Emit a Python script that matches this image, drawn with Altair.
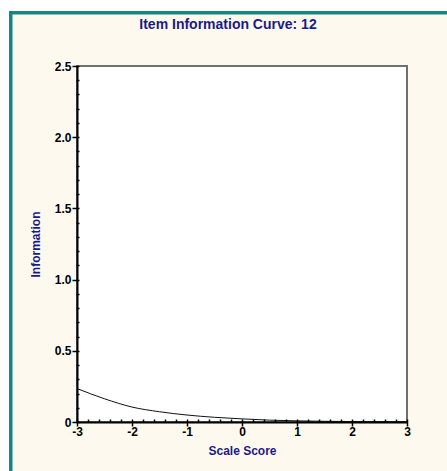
import altair as alt
import pandas as pd

# Item information for item 12 across the scale score range
theta = [-3.0, -2.5, -2.0, -1.5, -1.0, -0.5, 0.0, 0.5, 1.0, 1.5, 2.0, 2.5, 3.0]
info = [0.235, 0.163, 0.105, 0.072, 0.049, 0.033, 0.022, 0.013, 0.008, 0.005, 0.003, 0.002, 0.001]

major_x = [-3, -2, -1, 0, 1, 2, 3]
minor_x = [round(-3 + 0.2 * i, 1) for i in range(31)]
major_y = [0, 0.5, 1.0, 1.5, 2.0, 2.5]
minor_y = [round(0.1 * i, 1) for i in range(26)]

df = pd.DataFrame({"theta": theta, "info": info})

W, H = 330, 356
PAD = {"left": 77, "top": 66, "right": 40, "bottom": 49}
NAVY = "#1a1a8c"
CREAM = "#fef9ee"
TEAL = "#178580"
FONT = "Liberation Sans"

one = alt.Data(values=[{}])

# cream panel with teal frame (right and bottom edges run past the canvas)
panel = alt.Chart(one).mark_rect(
    fill=CREAM, stroke=TEAL, strokeWidth=3.5
).encode(
    x=alt.value(-66.25), x2=alt.value(W + 80),
    y=alt.value(-53.25), y2=alt.value(H + 80),
)

# white plot area
plot_bg = alt.Chart(one).mark_rect(
    fill="white", stroke="#707070", strokeWidth=2
).encode(
    x=alt.value(0), x2=alt.value(W), y=alt.value(0), y2=alt.value(H)
)

xs = alt.Scale(domain=[-3, 3], nice=False, zero=False)
ys = alt.Scale(domain=[0, 2.5], nice=False)

curve = alt.Chart(df).mark_line(
    color="#111111", strokeWidth=1, interpolate="monotone"
).encode(
    x=alt.X("theta:Q", scale=xs, axis=alt.Axis(
        values=major_x, title="Scale Score", orient="bottom",
        labelExpr="datum.value < 0 ? '-' + abs(datum.value) : '' + datum.value",
        domainColor="black", domainWidth=2, tickColor="black", tickWidth=1.5,
        tickSize=4, labelPadding=0, labelFont=FONT, labelFontSize=12,
        labelFontWeight="bold", labelColor="black", labelFlush=False,
        titleFont=FONT, titleFontSize=12, titleFontWeight="bold",
        titleColor=NAVY, titlePadding=8, grid=False, zindex=2,
    )),
    y=alt.Y("info:Q", scale=ys, axis=alt.Axis(
        values=major_y, title="Information", orient="left",
        labelExpr="datum.value == 0 ? '0' : format(datum.value, '.1f')",
        domainColor="black", domainWidth=2, tickColor="black", tickWidth=1.5,
        tickSize=5, labelPadding=1, labelFont=FONT, labelFontSize=12,
        labelFontWeight="bold", labelColor="black", labelFlush=False,
        titleFont=FONT, titleFontSize=12, titleFontWeight="bold",
        titleColor=NAVY, titlePadding=12, grid=False, zindex=2,
    )),
)

# minor ticks carried by an invisible copy of the curve
minor = alt.Chart(df).mark_line(opacity=0).encode(
    x=alt.X("theta:Q", scale=xs, axis=alt.Axis(
        values=minor_x, orient="bottom", labels=False, title=None,
        domain=False, tickColor="black", tickWidth=1.5, tickSize=3,
        offset=-3, grid=False, zindex=2,
    )),
    y=alt.Y("info:Q", scale=ys, axis=alt.Axis(
        values=minor_y, orient="left", labels=False, title=None,
        domain=False, tickColor="black", tickWidth=1.5, tickSize=3,
        offset=-2, grid=False, zindex=2,
    )),
)

chart = alt.layer(panel, plot_bg, curve, minor).resolve_axis(
    x="independent", y="independent"
).properties(
    width=W, height=H,
    padding=PAD,
    autosize=alt.AutoSizeParams(type="none"),
    background="white",
    title=alt.TitleParams(
        "Item Information Curve: 12", font=FONT, fontSize=14,
        fontWeight="bold", color=NAVY, anchor="middle", dx=-14,
        baseline="alphabetic", offset=-32,
    ),
).configure_view(stroke=None)

chart.save("out.html", embed_options={"renderer": "svg", "actions": False})
